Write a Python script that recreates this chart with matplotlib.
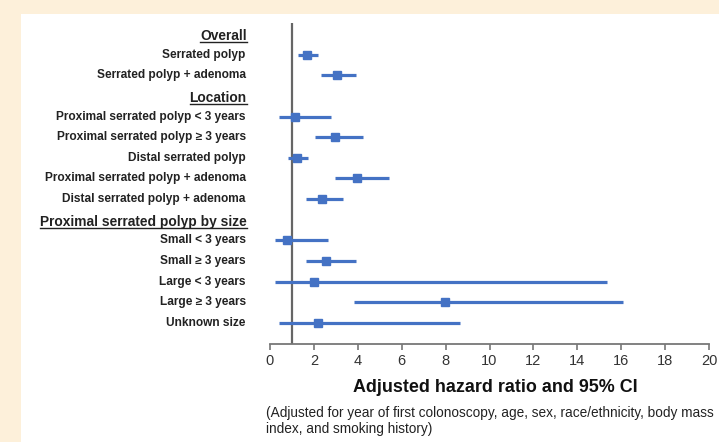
import matplotlib
matplotlib.use("Agg")
import matplotlib.pyplot as plt
from matplotlib.patches import Rectangle
from matplotlib.lines import Line2D
from matplotlib.transforms import IdentityTransform

plt.rcParams['font.family'] = ['Liberation Sans', 'DejaVu Sans']

# rows, top to bottom; headers have no estimate
labels = ["Overall", "Serrated polyp", "Serrated polyp + adenoma",
          "Location", "Proximal serrated polyp < 3 years",
          "Proximal serrated polyp \u2265 3 years", "Distal serrated polyp",
          "Proximal serrated polyp + adenoma", "Distal serrated polyp + adenoma",
          "Proximal serrated polyp by size", "Small < 3 years",
          "Small \u2265 3 years", "Large < 3 years", "Large \u2265 3 years",
          "Unknown size"]
is_header = [True, False, False, True, False, False, False, False, False,
             True, False, False, False, False, False]
hr = [None, 1.67, 3.05, None, 1.12, 2.96, 1.23, 3.95, 2.35,
      None, 0.76, 2.56, 2.0, 7.95, 2.2]
ci_low = [None, 1.26, 2.31, None, 0.41, 2.05, 0.82, 2.96, 1.63,
          None, 0.21, 1.63, 0.21, 3.83, 0.41]
ci_high = [None, 2.17, 3.92, None, 2.78, 4.24, 1.72, 5.4, 3.33,
           None, 2.64, 3.9, 15.34, 16.08, 8.65]
xticks = list(range(0, 21, 2))

W, H = 719, 442
fig = plt.figure(figsize=(W / 100, H / 100), dpi=100, facecolor='#fdf0da')
fig.patches.append(Rectangle((21 / W, 0), 1 - 21 / W, 1 - 14 / H,
                             transform=fig.transFigure, facecolor='white',
                             edgecolor='none', zorder=-1))

ax = fig.add_axes([270 / W, 98 / H, 439 / W, (344 - 23) / H])
ax.set_facecolor('none')
blue = '#4472c4'
for i in range(len(labels)):
    if hr[i] is None:
        continue
    ax.plot([ci_low[i], ci_high[i]], [i, i], color=blue, lw=2.3,
            solid_capstyle='butt', zorder=3)
    ax.plot(hr[i], i, marker='s', ms=6, color=blue, zorder=4)

ax.axvline(1, color='#666666', lw=1.6, zorder=2)
ax.set_xlim(0, 20)
ax.set_ylim(15.02, -0.53)
for s in ['left', 'top', 'right']:
    ax.spines[s].set_visible(False)
ax.spines['bottom'].set_color('#777777')
ax.spines['bottom'].set_linewidth(1.3)
ax.set_yticks([])
ax.set_xticks(xticks)
ax.tick_params(axis='x', direction='out', length=4, width=1.2,
               color='#777777', labelsize=10.5, labelcolor='#333333', pad=3)

ytr = ax.get_yaxis_transform()
headers = []
for i, lab in enumerate(labels):
    if is_header[i]:
        t = ax.text(-0.053, i + 0.3, lab, transform=ytr, ha='right',
                    va='baseline', fontsize=9.9, fontweight='bold',
                    color='#222222')
        headers.append(t)
    else:
        ax.text(-0.055, i, lab, transform=ytr, ha='right', va='center',
                fontsize=8.6, fontweight='bold', color='#222222')

fig.text(495 / W, 1 - 387 / H, "Adjusted hazard ratio and 95% CI",
         ha='center', va='center', fontsize=12.9, fontweight='bold',
         color='#111111')
fig.text(266 / W, 1 - 421 / H,
         "(Adjusted for year of first colonoscopy, age, sex, race/ethnicity, body mass\n"
         "index, and smoking history)",
         ha='left', va='center', fontsize=9.85, color='#222222',
         linespacing=1.22)

# underline the section headers
fig.canvas.draw()
for t in headers:
    bb = t.get_window_extent()
    ybase = t.get_transform().transform(t.get_position())[1] - 2
    fig.add_artist(Line2D([bb.x0, bb.x1], [ybase, ybase], lw=1.0,
                          color='#222222', transform=IdentityTransform()))

fig.savefig("out.png", dpi=100, facecolor=fig.get_facecolor())
